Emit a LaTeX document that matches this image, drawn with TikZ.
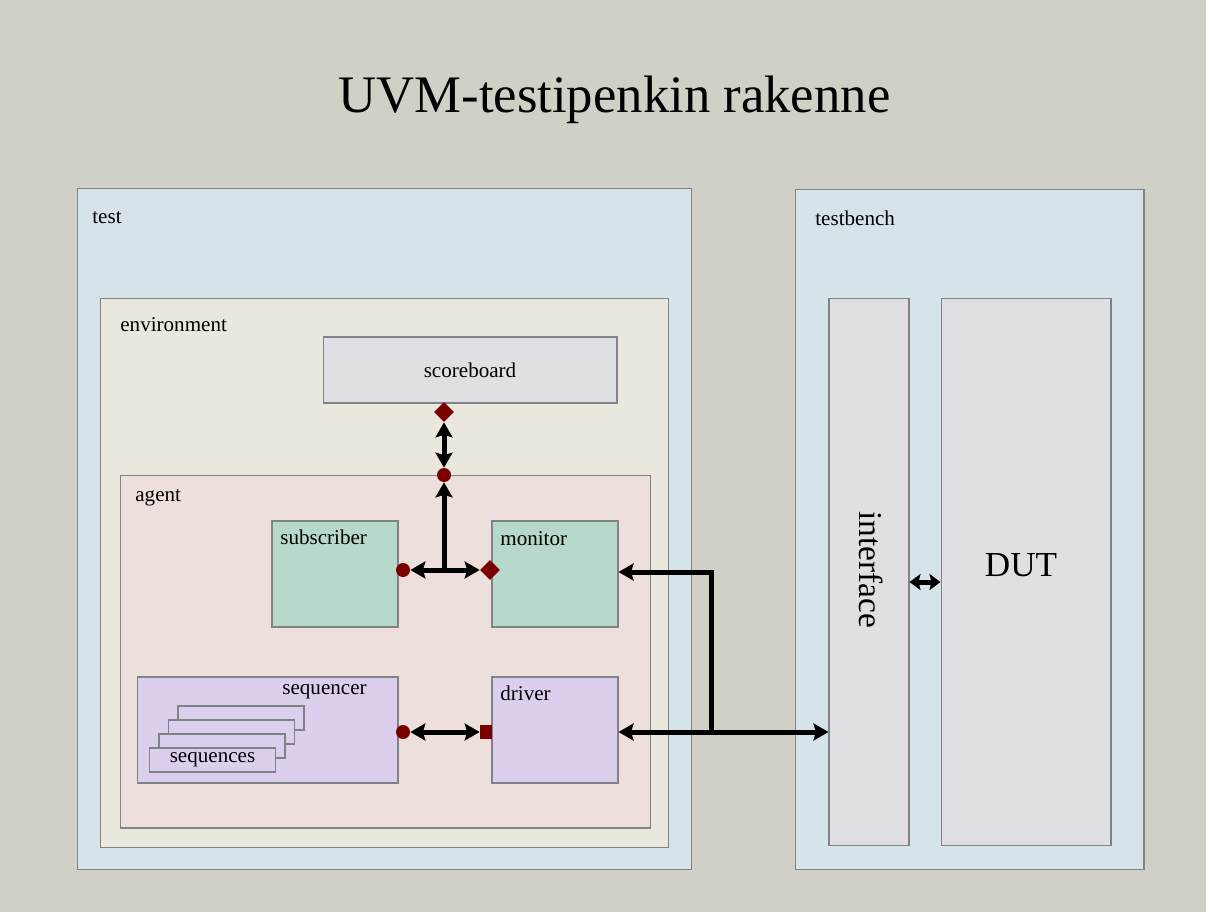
\documentclass[tikz,border=0pt]{standalone}
\usepackage{fontspec}
\setmainfont{Liberation Serif}
\usetikzlibrary{arrows.meta,shapes.geometric}

\definecolor{slidebg}{HTML}{D1D0C7}
\definecolor{testblue}{HTML}{D6E3E9}
\definecolor{envcream}{HTML}{EAE7DC}
\definecolor{agentpink}{HTML}{EDDFDC}
\definecolor{compgray}{HTML}{E0E0E4}
\definecolor{compgreen}{HTML}{B6D9C9}
\definecolor{complilac}{HTML}{DCCFEE}
\definecolor{boxline}{HTML}{7F8387}
\definecolor{portred}{HTML}{7A0000}

\begin{document}
\begin{tikzpicture}[x=0.02cm, y=-0.02cm,
	box/.style={rectangle, draw=boxline, line width=0.6pt, inner sep=0pt},
	lbl/.style={anchor=west, inner sep=0pt, font=\fontsize{12}{14}\selectfont},
	conn/.style={line width=0.1cm, >={Stealth[length=0.3cm, width=0.34cm, inset=0.05cm]}},
	pcirc/.style={circle, fill=portred, inner sep=0pt, minimum size=0.28cm},
	pdiam/.style={diamond, fill=portred, inner sep=0pt, minimum size=0.4cm},
	psq/.style={rectangle, fill=portred, inner sep=0pt, minimum width=0.24cm, minimum height=0.28cm}]
	\fill[slidebg] (0,0) rectangle (1206,912);
	\useasboundingbox (0,0) rectangle (1206,912);

	\node (title) at (614.5,113)	[anchor=base, font=\fontsize{30}{34}\selectfont]	{UVM-testipenkin rakenne};

	% containers
	\node (test) at (384.5,529)	[box, fill=testblue, minimum width=12.3cm, minimum height=13.64cm]	{};
	\node (bench) at (969.5,529.5)	[box, fill=testblue, minimum width=6.98cm, minimum height=13.62cm]	{};
	\node (env) at (384.5,573)	[box, fill=envcream, minimum width=11.38cm, minimum height=11cm]	{};
	\node (agent) at (385.5,651.5)	[box, fill=agentpink, minimum width=10.62cm, minimum height=7.06cm]	{};
	\node (testlbl) at (92,218)	[lbl]	{test};
	\node (benchlbl) at (815,218)	[lbl]	{testbench};
	\node (envlbl) at (120,325)	[lbl]	{environment};
	\node (agentlbl) at (135,498)	[lbl]	{agent};

	% components
	\node (scoreboard) at (470,370)	[box, fill=compgray, minimum width=5.88cm, minimum height=1.32cm, font=\fontsize{12}{14}\selectfont]	{scoreboard};
	\node (subscriber) at (335,574)	[box, fill=compgreen, minimum width=2.52cm, minimum height=2.12cm]	{};
	\node (monitor) at (555,574)	[box, fill=compgreen, minimum width=2.52cm, minimum height=2.12cm]	{};
	\node (sequencer) at (267.5,730)	[box, fill=complilac, minimum width=5.22cm, minimum height=2.12cm]	{};
	\node (driver) at (555,730)	[box, fill=complilac, minimum width=2.52cm, minimum height=2.12cm]	{};
	\node (sublbl) at (280,537)	[lbl]	{subscriber};
	\node (monlbl) at (500,539)	[lbl]	{monitor};
	\node (seqrlbl) at (282,692)	[lbl]	{sequencer};
	\node (drvlbl) at (500,693)	[lbl]	{driver};
	\node (seqA) at (241,718)	[box, fill=complilac, minimum width=2.52cm, minimum height=0.48cm]	{};
	\node (seqB) at (231.5,732)	[box, fill=complilac, minimum width=2.52cm, minimum height=0.48cm]	{};
	\node (seqC) at (222,746)	[box, fill=complilac, minimum width=2.52cm, minimum height=0.48cm]	{};
	\node (seqD) at (212.5,760)	[box, fill=complilac, minimum width=2.52cm, minimum height=0.48cm, font=\fontsize{12}{14}\selectfont]	{sequences};

	\node (interface) at (869,572)	[box, fill=compgray, minimum width=1.6cm, minimum height=10.96cm]	{};
	\node (DUT) at (1026,572)	[box, fill=compgray, minimum width=3.4cm, minimum height=10.96cm]	{};
	\node (iflbl) at (871,570)	[rotate=-90, font=\fontsize{19}{22}\selectfont]	{interface};
	\node (dutlbl) at (1021,576)	[anchor=base, font=\fontsize{20}{24}\selectfont]	{DUT};

	% ports
	\node (sbport) at (444,412)	[pdiam]	{};
	\node (agport) at (444,475)	[pcirc]	{};
	\node (subport) at (403,570)	[pcirc]	{};
	\node (monport) at (490,570)	[pdiam]	{};
	\node (sqport) at (403,732)	[pcirc]	{};
	\node (drvport) at (486,732)	[psq]	{};
	\coordinate (tee) at (444,570);
	\coordinate (bus) at (711,732);

	% connections
	\draw[conn, <->] (sbport) -- (agport);
	\draw[conn, ->] (tee) -- (agport);
	\draw[conn, <->] (subport) -- (monport);
	\draw[conn, <->] (sqport) -- (drvport);
	\draw[conn, ->] (bus) |- (monitor.east |- 0,572);
	\draw[conn, <->] (driver.east |- bus) -- (interface.west |- bus);
	\draw[conn, >={Stealth[length=0.22cm, width=0.32cm, inset=0.04cm]}, <->] ([yshift=-0.2cm]interface.east) -- ([yshift=-0.2cm]DUT.west);
\end{tikzpicture}
\end{document}
